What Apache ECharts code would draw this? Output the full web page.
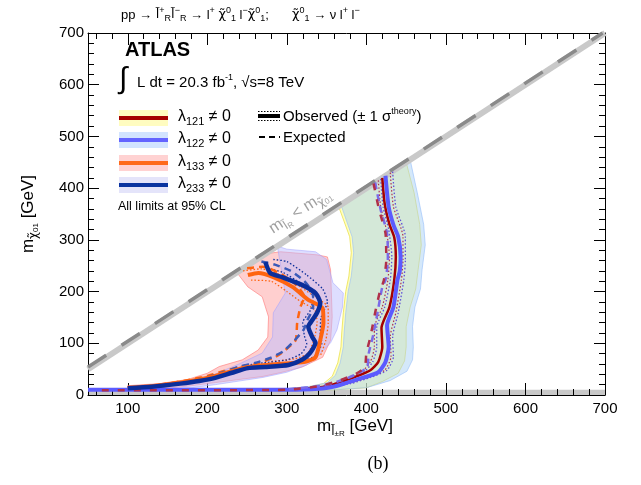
<!DOCTYPE html>
<html><head><meta charset="utf-8">
<script src="https://cdn.jsdelivr.net/npm/echarts@6.0.0/dist/echarts.min.js"></script>
<style>html,body{margin:0;padding:0;background:#fff}#c{width:641px;height:485px}</style>
</head><body><div id="c"></div>
<script>
// ---------- tick data ----------
const xMajorTicks = [100,200,300,400,500,600,700];
const xMinorTicks = [60,80,120,140,160,180,220,240,260,280,320,340,360,380,420,440,460,480,520,540,560,580,620,640,660,680];
const yRange = [0,700];

// ---------- kinematic line and bottom strip ----------
const diagLine = [[50,50],[700,700]];
const diagDash = [[50,54],[697,700]];
const bottomStrip = [[50,0],[700,0],[700,10],[50,10]];

// ---------- ±1σ expected bands ----------
const band121 = [[365,365],[379,306],[381,275],[378,230],[374,200],[371,159],[369,120],[368,93],[364,62],[357,36],[346,22],[325,15],[300,12],[290,10],[360,10],[400,14],[420,26],[440,42],[448,66],[450,93],[450,132],[455,170],[462,205],[465,242],[469,290],[467,330],[460,391],[450,450]];
const band122 = [[368,368],[382,306],[384,275],[381,230],[377,200],[374,159],[372,120],[371,93],[367,62],[361,38],[351,24],[330,17],[305,13],[290,10],[360,10],[400,14],[430,28],[451,46],[458,68],[459,93],[458,132],[461,170],[468,205],[470,242],[474,290],[472,330],[464,391],[455,455]];
const band133 = [[100,18],[140,22],[175,30],[200,42],[215,55],[244,68],[264,87],[276,112],[277,151],[269,190],[251,209],[237,237],[273,273],[292,277],[338,271],[351,267],[355,242],[357,151],[355,106],[345,73],[319,54],[294,44],[270,36],[240,30],[210,24],[180,18],[150,13],[120,11],[100,12]];
const band233 = [[100,15],[140,19],[175,25],[200,34],[215,44],[240,60],[269,81],[282,112],[283,159],[298,197],[288,288],[300,282],[336,277],[350,262],[358,217],[371,197],[370,170],[363,126],[355,101],[338,73],[325,58],[300,44],[270,34],[240,27],[210,20],[180,14],[150,11],[120,10],[100,11]];

// ---------- observed limits ----------
const obs121 = [[420,420],[423,370],[429,330],[435,305],[437,267],[435,222],[429,170],[419,130],[420,93],[415,64],[405,48],[386,35],[370,26],[350,17],[320,12],[300,11]];
const obs122 = [[424,424],[428,364],[434,329],[440,306],[443,267],[442,240],[439,222],[434,170],[426,135],[428,93],[424,64],[415,44],[395,33],[374,23],[361,17],[340,12],[300,10],[50,10]];
const obs133 = [[251,232],[264,236],[283,228],[307,209],[327,184],[345,168],[346,139],[342,106],[336,73],[323,64],[307,62],[273,58],[244,52],[226,44],[210,37],[190,30],[166,24],[130,17],[100,14]];
const obs233 = [[273,257],[279,236],[294,228],[319,213],[336,197],[342,178],[338,159],[332,145],[327,132],[332,112],[336,101],[329,81],[319,68],[302,58],[273,54],[251,52],[231,43],[210,33],[190,27],[166,22],[130,16],[100,13]];

// ---------- observed ±1σ(theory) ----------
const obs122Up = [[433,432],[437,364],[449,306],[449,261],[447,222],[440,159],[433,112],[434,74],[426,48],[405,34],[380,22],[350,14]];
const obs122Dn = [[418,418],[421,364],[428,320],[432,267],[430,222],[423,170],[413,130],[413,93],[408,64],[398,46],[380,33],[360,22],[335,13]];
const obs121Up = [[430,430],[434,364],[446,306],[446,261],[444,222],[437,159],[430,112],[431,74],[423,48],[402,34],[377,22]];
const obs121Dn = [[415,415],[418,364],[425,320],[429,267],[427,222],[420,170],[410,130],[410,93],[405,64],[395,46],[377,33]];
const obs133Up = [[245,240],[268,244],[295,230],[318,208],[340,185],[352,170],[352,140],[349,106],[342,75]];
const obs133Dn = [[255,222],[280,220],[300,200],[318,180],[335,165],[338,140],[334,106],[326,80],[310,70],[280,65]];
const obs233Up = [[283,262],[300,258],[325,232],[345,205],[351,180],[343,150],[342,120],[344,100],[335,75],[320,65]];
const obs233Dn = [[275,245],[295,237],[320,213],[333,190],[330,165],[320,140],[322,115],[325,98],[318,80],[300,68],[270,62],[245,57]];

// ---------- expected limits ----------
const exp121 = [[409,409],[416,358],[424,313],[425,261],[422,222],[417,200],[411,159],[405,112],[400,81],[398,54],[388,42],[368,29],[343,18],[300,10],[60,9]];
const exp122 = [[411,411],[418,358],[426,313],[427,261],[424,222],[420,209],[414,159],[408,112],[403,81],[401,54],[390,42],[370,29],[345,18],[300,11]];
const exp133 = [[250,245],[270,248],[295,232],[312,212],[322,190],[317,170],[313,140],[311,106],[298,87],[285,73],[260,60],[240,54],[220,46],[200,37],[170,27],[130,18],[100,14]];
const exp233 = [[268,258],[285,252],[305,240],[322,220],[333,195],[333,170],[326,145],[321,126],[307,101],[296,85],[280,72],[260,62],[240,55],[220,44],[200,35],[170,25],[130,17],[100,14]];

// ---------- styling ----------
const FONT = 'Liberation Sans, Arial, Helvetica, sans-serif';
const DJ = 'DejaVu Sans';
const C121 = '#a50000', C122 = '#5b5bff', C133 = '#ff6410', C233 = '#0b2e9a';

function band(points, fill, stroke, z) {
  return {type:'custom', xAxisIndex:0, yAxisIndex:0, data:[points[0]], z:z, silent:true, clip:true,
    renderItem:(p, api) => ({type:'polygon', shape:{points: points.map(q => api.coord(q))},
      style:{fill:fill, stroke:stroke, lineWidth:1}})};
}
function line(data, color, width, type, z) {
  return {type:'line', xAxisIndex:0, yAxisIndex:0, data:data, showSymbol:false, symbol:'none', smooth:0.2,
    lineStyle:{color:color, width:width, type:type, cap:'butt'}, z:z, silent:true, clip:true};
}
const DOT = [1.5,2], DASH = [7,5];

const series = [
  band(bottomStrip, '#c8c8c8', null, -1),
  band(band121, 'rgba(255,255,120,0.5)', 'rgba(235,225,80,0.8)', 1),
  band(band122, 'rgba(170,210,245,0.5)', 'rgba(150,190,250,0.6)', 1),
  band(band133, 'rgba(255,160,160,0.5)', 'rgba(255,120,120,0.6)', 1),
  band(band233, 'rgba(190,190,255,0.5)', 'rgba(160,160,255,0.5)', 1),
  line(diagLine, '#c9c9c9', 6, 'solid', 2),
  line(diagDash, '#8a8a8a', 3.5, [22,18], 2),
  line(obs122Up, '#6050d8', 1.3, DOT, 3), line(obs122Dn, '#6050d8', 1.3, DOT, 3),
  line(obs121Up, '#b03050', 1.2, DOT, 3), line(obs121Dn, '#b03050', 1.2, DOT, 3),
  line(obs133Up, C133, 1.3, DOT, 3), line(obs133Dn, C133, 1.3, DOT, 3),
  line(obs233Up, C233, 1.3, DOT, 3), line(obs233Dn, C233, 1.3, DOT, 3),
  line(obs121, C121, 2.5, 'solid', 4),
  line(obs122, C122, 4, 'solid', 5),
  line(exp122, '#7a6ae8', 2.5, DASH, 6), line(exp121, '#b0304a', 2.5, [7,9], 6),
  line(exp133, C133, 2.5, DASH, 4), line(exp233, '#3a5ab8', 2.5, DASH, 4),
  line(obs133, C133, 4, 'solid', 5), line(obs233, C233, 4.5, 'solid', 6)
];

const lblStyle = {fontFamily:FONT, fontSize:15, color:'#000'};
const xAxes = [
  {type:'value', position:'bottom', min:50, max:700, splitLine:{show:false},
   axisLine:{show:true, lineStyle:{color:'#000', width:1}},
   axisTick:{show:true, inside:true, length:12, customValues:xMajorTicks, lineStyle:{color:'#000'}},
   axisLabel:Object.assign({customValues:xMajorTicks, margin:6}, lblStyle)},
  {type:'value', position:'bottom', min:50, max:700, splitLine:{show:false}, axisLine:{show:false},
   axisTick:{show:true, inside:true, length:6, customValues:xMinorTicks, lineStyle:{color:'#000'}},
   axisLabel:{show:false}},
  {type:'value', position:'top', min:50, max:700, splitLine:{show:false},
   axisLine:{show:true, lineStyle:{color:'#000', width:1}},
   axisTick:{show:true, inside:true, length:12, customValues:xMajorTicks, lineStyle:{color:'#000'}},
   axisLabel:{show:false}},
  {type:'value', position:'top', min:50, max:700, splitLine:{show:false}, axisLine:{show:false},
   axisTick:{show:true, inside:true, length:6, customValues:xMinorTicks, lineStyle:{color:'#000'}},
   axisLabel:{show:false}}
];
const yAxes = [
  {type:'value', position:'left', min:yRange[0], max:yRange[1], interval:100, splitLine:{show:false},
   axisLine:{show:true, lineStyle:{color:'#000'}},
   axisTick:{show:true, inside:true, length:11, lineStyle:{color:'#000'}},
   minorTick:{show:true, splitNumber:5, length:6, lineStyle:{color:'#000'}},
   axisLabel:Object.assign({margin:4}, lblStyle)},
  {type:'value', position:'right', min:yRange[0], max:yRange[1], interval:100, splitLine:{show:false},
   axisLine:{show:true, lineStyle:{color:'#000'}},
   axisTick:{show:true, inside:true, length:11, lineStyle:{color:'#000'}},
   minorTick:{show:true, splitNumber:5, length:6, lineStyle:{color:'#000'}},
   axisLabel:{show:false}}
];

// ---------- texts / legend (graphic) ----------
function txt(x, y, text, size, extra, rich) {
  return Object.assign({type:'text', x:x, y:y, z:100, silent:true,
    style:{text:text, fontFamily:FONT, fontSize:size, fill:'#000', lineHeight:size+4,
      align:'left', verticalAlign:'middle', textAlign:'left', textVerticalAlign:'middle', rich:rich||{}}}, extra||{});
}
const legendRows = [
  {y:118, band:'#fffcc0', line:C121, label:'121'},
  {y:140, band:'#d2e4ff', line:'#6464ff', label:'122'},
  {y:163, band:'#ffd2d2', line:'#ff6a1a', label:'133'},
  {y:185, band:'#e4e4fa', line:'#0a34a0', label:'233'}
];
const graphics = [];
const titleRich = {sup:{fontSize:9, lineHeight:9, verticalAlign:'top'}, sub:{fontSize:9, lineHeight:8, verticalAlign:'bottom'},
  t:{fontSize:13, fontFamily:DJ, lineHeight:17}};
graphics.push(txt(121, 15, 'pp → {t|l\u0303}{sup|+}{sub|R}{t|l\u0303}{sup|−}{sub|R} → l{sup|+} {t|χ\u0303}{sup|0}{sub|1} l{sup|−}{t|χ\u0303}{sup|0}{sub|1};', 13, null, titleRich));
graphics.push(txt(292, 15, '{t|χ\u0303}{sup|0}{sub|1} → ν l{sup|+} l{sup|−}', 13, null, titleRich));
graphics.push(txt(125, 50, 'ATLAS', 20, {style:{text:'ATLAS', fontFamily:FONT, fontSize:20, fontWeight:'bold', fill:'#000', verticalAlign:'middle', textVerticalAlign:'middle'}}));
graphics.push(txt(119, 80, '∫', 30));
graphics.push(txt(137, 83, 'L dt = 20.3 fb{sup|-1}, √s=8 TeV', 15, null, {sup:{fontSize:9, lineHeight:10, verticalAlign:'top'}}));
legendRows.forEach(r => {
  graphics.push({type:'rect', z:99, silent:true, shape:{x:119, y:r.y-8, width:49, height:16}, style:{fill:r.band}});
  graphics.push({type:'line', z:99, silent:true, shape:{x1:119, y1:r.y, x2:168, y2:r.y}, style:{stroke:r.line, lineWidth:4}});
  graphics.push(txt(178, r.y-1, 'λ{sub|' + r.label + '} ≠ 0', 16, null, {sub:{fontSize:11, lineHeight:6, verticalAlign:'bottom'}}));
});
graphics.push({type:'line', z:99, silent:true, shape:{x1:258, y1:116, x2:280, y2:116}, style:{stroke:'#000', lineWidth:4}});
graphics.push({type:'line', z:99, silent:true, shape:{x1:258, y1:111.5, x2:280, y2:111.5}, style:{stroke:'#000', lineWidth:1, lineDash:[1.5,1.5]}});
graphics.push({type:'line', z:99, silent:true, shape:{x1:258, y1:120.5, x2:280, y2:120.5}, style:{stroke:'#000', lineWidth:1, lineDash:[1.5,1.5]}});
graphics.push({type:'line', z:99, silent:true, shape:{x1:259, y1:137, x2:280, y2:137}, style:{stroke:'#000', lineWidth:2, lineDash:[6,4]}});
graphics.push(txt(283, 117, 'Observed (± 1 σ{sup|theory})', 15, null, {sup:{fontSize:9, lineHeight:9, verticalAlign:'top'}}));
graphics.push(txt(283, 138, 'Expected', 15));
graphics.push(txt(118, 207, 'All limits at 95% CL', 12.5));
// diagonal label
graphics.push({type:'text', x:300, y:211, rotation:0.576, z:100, silent:true,
  style:{text:'m{sub|l\u0303}{sub2|R} < m{sub|χ\u0303}{sup2|0}{sub2|1}', fontFamily:FONT, fontSize:16, fill:'#a0a0a0', lineHeight:22,
    align:'center', verticalAlign:'middle', textAlign:'center', textVerticalAlign:'middle',
    rich:{sub:{fontSize:12, fontFamily:DJ, lineHeight:12, verticalAlign:'bottom'}, sup2:{fontSize:8, lineHeight:20, verticalAlign:'bottom'}, sub2:{fontSize:8, lineHeight:4, verticalAlign:'bottom'}}}});
// axis names
graphics.push({type:'text', x:28, y:214, rotation:Math.PI/2, z:100, silent:true,
  style:{text:'m{sub|χ\u0303}{sup2|0}{sub2|1} [GeV]', fontFamily:FONT, fontSize:17, fill:'#000', lineHeight:24,
    align:'center', verticalAlign:'middle', textAlign:'center', textVerticalAlign:'middle',
    rich:{sub:{fontSize:12, fontFamily:DJ, lineHeight:12, verticalAlign:'bottom'}, sup2:{fontSize:8, lineHeight:22, verticalAlign:'bottom'}, sub2:{fontSize:8, lineHeight:4, verticalAlign:'bottom'}}}});
graphics.push({type:'text', x:355, y:426, z:100, silent:true,
  style:{text:'m{sub|l\u0303}{sup2|±}{sub2|R} [GeV]', fontFamily:FONT, fontSize:17, fill:'#000', lineHeight:24,
    align:'center', verticalAlign:'middle', textAlign:'center', textVerticalAlign:'middle',
    rich:{sub:{fontSize:12, fontFamily:DJ, lineHeight:12, verticalAlign:'bottom'}, sup2:{fontSize:8, lineHeight:22, verticalAlign:'bottom'}, sub2:{fontSize:8, lineHeight:2, verticalAlign:'bottom'}}}});
graphics.push({type:'text', x:378, y:464, z:100, silent:true,
  style:{text:'(b)', fontFamily:'Liberation Serif, DejaVu Serif, serif', fontSize:18, fill:'#000',
    align:'center', verticalAlign:'middle', textAlign:'center', textVerticalAlign:'middle'}});

const chart = echarts.init(document.getElementById('c'), null, {renderer:'canvas'});
chart.setOption({
  animation:false,
  backgroundColor:'#fff',
  grid:{left:88, right:36, top:33, bottom:90, show:false},
  xAxis:xAxes,
  yAxis:yAxes,
  series:series,
  graphic:graphics
});
</script>
</body></html>
